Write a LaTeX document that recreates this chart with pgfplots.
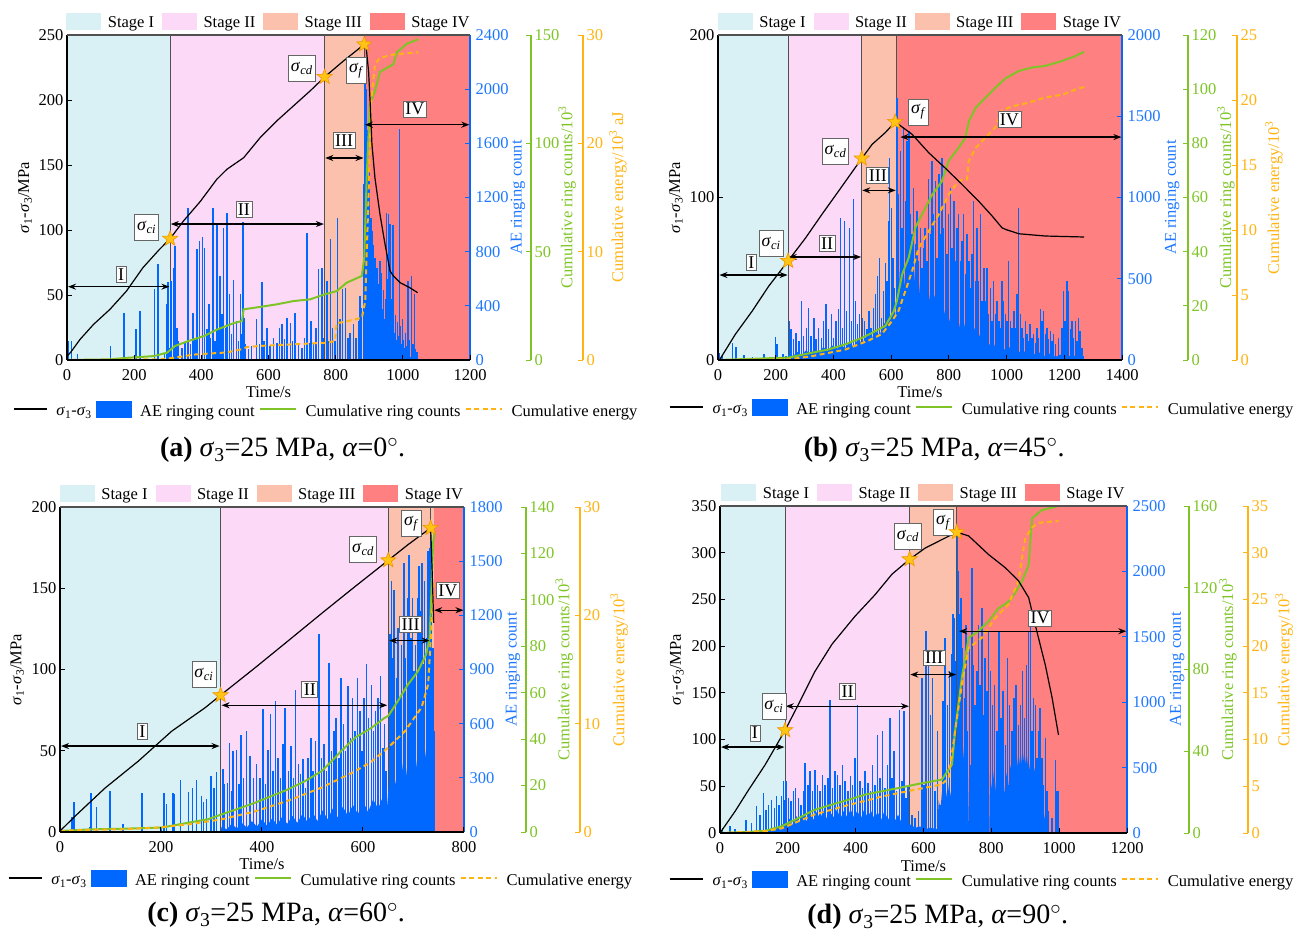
\documentclass[border=0pt]{standalone}
\usepackage{fontspec}
\setmainfont{Liberation Serif}
\usepackage{pgfplots}
\pgfplotsset{compat=1.18}
\usetikzlibrary{arrows.meta}

\definecolor{stI}{RGB}{217,241,244}
\definecolor{stII}{RGB}{253,217,248}
\definecolor{stIII}{RGB}{251,193,172}
\definecolor{stIV}{RGB}{255,128,128}
\definecolor{aeb}{RGB}{0,104,255}
\definecolor{aebt}{RGB}{30,120,255}
\definecolor{cgr}{RGB}{126,196,38}
\definecolor{cor}{RGB}{255,180,20}
\definecolor{starf}{RGB}{255,196,20}
\definecolor{stard}{RGB}{240,150,0}
\definecolor{edge}{RGB}{80,80,80}

\newcommand\fs{\fontsize{16.5}{19}\selectfont}
\newcommand\fcap{\fontsize{28}{32}\selectfont}
\newcommand\sig[1]{\textit{σ}\textsubscript{\textit{#1}}}
\newcommand\sdiff{\textit{σ}\textsubscript{1}-\textit{σ}\textsubscript{3}}

% filled five-pointed star for the characteristic stresses
\pgfdeclareplotmark{fstar}{%
  \pgfpathmoveto{\pgfpointpolar{90}{\pgfplotmarksize}}%
  \pgfpathlineto{\pgfpointpolar{126}{0.42\pgfplotmarksize}}%
  \pgfpathlineto{\pgfpointpolar{162}{\pgfplotmarksize}}%
  \pgfpathlineto{\pgfpointpolar{198}{0.42\pgfplotmarksize}}%
  \pgfpathlineto{\pgfpointpolar{234}{\pgfplotmarksize}}%
  \pgfpathlineto{\pgfpointpolar{270}{0.42\pgfplotmarksize}}%
  \pgfpathlineto{\pgfpointpolar{306}{\pgfplotmarksize}}%
  \pgfpathlineto{\pgfpointpolar{342}{0.42\pgfplotmarksize}}%
  \pgfpathlineto{\pgfpointpolar{18}{\pgfplotmarksize}}%
  \pgfpathlineto{\pgfpointpolar{54}{0.42\pgfplotmarksize}}%
  \pgfpathclose\pgfusepathqfillstroke}

\pgfplotsset{
  base/.style={scale only axis, anchor=south west, xmin=0, ymin=0,
    tick align=inside, major tick length=5pt,
    /pgf/number format/assume math mode=true,
    /pgf/number format/1000 sep={},
    ticklabel style={font=\fs}, label style={font=\fs}},
  aeax/.style={base, axis x line=none, axis y line*=right, axis on top,
    y axis line style={aeb, line width=1.3pt},
    tick style={aeb, line width=1pt},
    yticklabel style={text=aebt, inner sep=1pt, xshift=4.5pt},
    every axis y label/.style={at={(axis description cs:#1,0.5)}, rotate=90, anchor=center, text=aebt, font=\fs},
    legend columns=4,
    legend style={at={(axis description cs:0.5,1)}, anchor=south, yshift=5pt,
      draw=none, fill=none, inner sep=0pt, font=\fs, nodes={inner sep=1pt},
      /tikz/every odd column/.append style={column sep=6pt},
      /tikz/every even column/.append style={column sep=7pt}}},
  grax/.style 2 args={base, axis x line=none, axis y line*=right, axis y line shift=#1,
    y axis line style={cgr, line width=1.3pt}, tick style={cgr, line width=1pt},
    yticklabel style={text=cgr},
    every axis y label/.style={at={(axis description cs:#2,0.5)}, rotate=90, anchor=center, text=cgr, font=\fs}},
  orax/.style 2 args={base, axis x line=none, axis y line*=right, axis y line shift=#1,
    y axis line style={cor, line width=1.3pt}, tick style={cor, line width=1pt},
    yticklabel style={text=cor},
    every axis y label/.style={at={(axis description cs:#2,0.5)}, rotate=90, anchor=center, text=cor, font=\fs}},
  stax/.style n args={3}{base, axis x line*=bottom, axis y line*=left, clip=false,
    x axis line style={black, line width=1.3pt}, y axis line style={black, line width=1.3pt},
    tick style={black, line width=1pt},
    xticklabel style={inner sep=1pt, yshift=-8.5pt},
    every axis x label/.style={at={(axis description cs:0.5,#1)}, anchor=center, font=\fs},
    every axis y label/.style={at={(axis description cs:#2,0.5)}, rotate=90, anchor=center, font=\fs},
    legend columns=4,
    legend style={at={(axis description cs:#3)}, anchor=west, draw=none, fill=none,
      inner sep=0pt, font=\fs, nodes={inner sep=1pt},
      /tikz/every odd column/.append style={column sep=8pt},
      /tikz/every even column/.append style={column sep=3pt}}},
  bars/.style={ycomb, aeb, line width=1.5pt, mark=none, forget plot},
  aearea/.style={fill=aeb, draw=none, forget plot},
  stress/.style={black, line width=1.2pt, mark=none, forget plot},
  cumring/.style={cgr, line width=2pt, mark=none, forget plot},
  cumen/.style={cor, line width=2pt, mark=none, dash pattern=on 5pt off 3.5pt, forget plot},
  stars/.style={only marks, mark=fstar, mark size=8pt, mark options={fill=starf, draw=stard, line width=0.6pt}, forget plot},
}
\tikzset{
  sbox/.style={draw=gray!80!black, fill=white, font=\fontsize{18}{20}\selectfont, inner sep=2.5pt, line width=0.8pt, minimum height=26pt},
  rbox/.style={draw=gray!80!black, fill=white, font=\fontsize{18}{20}\selectfont, inner sep=2pt, line width=0.8pt},
  arr/.style={{Stealth[length=8pt,width=6pt]}-{Stealth[length=8pt,width=6pt]}, line width=1.3pt, black},
}

\newcommand\stagelegend{%
  \addlegendimage{legend image code/.code={\fill[stI] (0pt,-7pt) rectangle (34pt,9pt);}}\addlegendentry{Stage I}
  \addlegendimage{legend image code/.code={\fill[stII] (0pt,-7pt) rectangle (34pt,9pt);}}\addlegendentry{Stage II}
  \addlegendimage{legend image code/.code={\fill[stIII] (0pt,-7pt) rectangle (34pt,9pt);}}\addlegendentry{Stage III}
  \addlegendimage{legend image code/.code={\fill[stIV] (0pt,-7pt) rectangle (34pt,9pt);}}\addlegendentry{Stage IV}}
\newcommand\serieslegend{%
  \addlegendimage{legend image code/.code={\draw[black, line width=1.2pt] (0pt,3pt) -- (33pt,3pt);}}\addlegendentry{\sdiff}
  \addlegendimage{legend image code/.code={\fill[aeb] (0pt,-5pt) rectangle (35pt,11pt);}}\addlegendentry{AE ringing count}
  \addlegendimage{legend image code/.code={\draw[cgr, line width=2pt] (0pt,3pt) -- (36pt,3pt);}}\addlegendentry{Cumulative ring counts}
  \addlegendimage{legend image code/.code={\draw[cor, line width=2pt, dash pattern=on 5pt off 3.5pt] (0pt,3pt) -- (36pt,3pt);}}\addlegendentry{Cumulative energy}}

\begin{document}
\begin{tikzpicture}
\useasboundingbox (0pt,0pt) rectangle (1311pt,-938pt);

% =================== (a) alpha = 0 ===================
\begin{axis}[aeax=1.119, at={(67pt,-360pt)}, width=403pt, height=325pt,
  xmax=1200, ymax=2400, ytick={0,400,...,2400}, ylabel={AE ringing count}]
\stagelegend
\fill[stI] (axis cs:0,0) rectangle (axis cs:307,2400);
\fill[stII] (axis cs:307,0) rectangle (axis cs:767,2400);
\fill[stIII] (axis cs:767,0) rectangle (axis cs:885,2400);
\fill[stIV] (axis cs:885,0) rectangle (axis cs:1200,2400);
\draw[edge, line width=1.2pt] (axis cs:307,0) -- (axis cs:307,2400)
  (axis cs:767,0) -- (axis cs:767,2400) (axis cs:885,0) -- (axis cs:885,2400);
\addplot[aearea] coordinates {(884,0)(885,500)(887,850)(890,600)(893,750)(896,500)(899,650)(902,420)(905,560)(908,380)(911,480)(914,330)(917,420)(920,300)(923,380)(926,260)(929,340)(932,230)(935,300)(938,200)(941,270)(944,180)(947,240)(950,160)(953,220)(956,140)(959,200)(962,120)(965,170)(968,100)(971,140)(975,80)(980,110)(985,60)(990,80)(1000,40)(1010,50)(1020,20)(1035,25)(1045,0)} \closedcycle;
\addplot[bars] coordinates {(5,140)(13,140)(32,47)(129,103)(169,350)(206,226)(218,362)(260,522)(271,706)(290,55)(296,411)(300,576)(304,90)
(307,30)(310,583)(317,682)(322,842)(327,239)(332,140)(342,91)(352,128)(360,1125)(367,116)(375,350)(381,165)(387,817)(395,879)(404,911)(410,830)(417,226)(423,416)(428,165)(434,1125)(440,140)(446,1002)(451,239)(456,620)(461,337)(466,977)(472,239)(476,1088)(484,485)(490,190)(496,591)(504,288)(510,140)(516,485)(520,190)(524,1022)(528,313)(532,116)(540,79)(550,103)(565,300)(573,116)(580,578)(587,140)(595,239)(605,103)(615,165)(625,128)(633,239)(640,263)(647,153)(655,313)(665,276)(671,140)(679,350)(689,116)(699,91)(707,165)(714,940)(722,128)(726,288)(734,116)(742,239)(749,670)(759,682)(764,165)
(774,583)(778,140)(784,891)(791,239)(798,140)(806,1051)(813,300)(821,522)(830,534)(837,165)(843,202)(853,263)(861,165)(868,288)(873,473)(877,386)(883,239)
(885,1300)(887,2130)(889,1800)(891,2000)(893,1500)(895,1700)(897,1350)(899,1100)(901,1400)(903,900)(905,1050)(907,800)(909,950)(911,700)(913,850)(915,600)(917,750)(920,500)(923,680)(926,450)(929,560)(932,731)(935,420)(937,645)(940,380)(943,520)(946,300)(949,450)(951,1085)(955,600)(957,1075)(960,400)(962,1002)(965,300)(968,450)(970,1000)(972,399)(975,200)(978,330)(981,150)(984,280)(987,180)(990,1703)(993,250)(996,120)(999,300)(1002,150)(1005,90)(1008,200)(1012,100)(1016,583)(1020,150)(1026,620)(1030,120)(1034,485)(1038,80)(1042,60)};
\end{axis}
\begin{axis}[grax={61pt}{1.241}, at={(67pt,-360pt)}, width=403pt, height=325pt,
  xmax=1200, ymax=150, ytick={0,50,...,150}, ylabel={Cumulative ring counts/10\textsuperscript{3}}]
\addplot[cumring] coordinates {(0,0)(129,0.3)(178,1)(258,1.8)(298,3.4)(322,6.5)(362,8.8)(407,11)(446,14)(496,17)(521,18)(526,23.4)(575,24.5)(625,25.7)(674,27.2)(724,28)(767,30.3)(803,31.8)(833,35.7)(878,38.8)(885,47)(893,87)(902,118)(917,124)(932,133)(972,136.5)(982,142)(1012,146)(1046,148)};
\end{axis}
\begin{axis}[orax={113pt}{1.367}, at={(67pt,-360pt)}, width=403pt, height=325pt,
  xmax=1200, ymax=30, ytick={0,10,...,30}, ylabel={Cumulative energy/10\textsuperscript{3} aJ}]
\addplot[cumen] coordinates {(0,0)(278,0.06)(317,0.2)(377,0.5)(476,0.7)(521,1.0)(536,1.2)(575,1.3)(674,1.45)(774,1.6)(798,1.75)(803,3.4)(823,3.5)(878,3.9)(888,5.4)(898,15.3)(905,23.6)(917,27.3)(932,27.9)(972,28.2)(1046,28.4)};
\end{axis}
\begin{axis}[stax={-0.098}{-0.104}{-0.134,-0.154}, at={(67pt,-360pt)}, width=403pt, height=325pt,
  xmax=1200, ymax=250, xtick={0,200,...,1200}, ytick={0,50,...,250},
  xlabel={Time/s}, ylabel={\sdiff/MPa}]
\serieslegend
\draw[edge, line width=1.2pt] (rel axis cs:0,1) -- (rel axis cs:1,1);
\addplot[stress] coordinates {(0,3)(10,5.6)(39,15.9)(79,27.4)(128,39)(177,53)(226,71)(275,85)(307,93.3)(347,107)(397,122)(446,139)(476,146.7)(526,155.6)(575,171)(625,184)(674,195.4)(724,207)(767,217.7)(823,230)(885,242.8)(891,240)(898,222)(903,196.7)(908,166)(917,140)(932,112)(947,89)(962,68.5)(972,64.6)(992,59.5)(1021,55.6)(1044,51.8)};
\draw[arr] (axis cs:3,56.4) -- (axis cs:305,56.4);
\draw[arr] (axis cs:309,104.6) -- (axis cs:765,104.6);
\draw[arr] (axis cs:769,155.4) -- (axis cs:883,155.4);
\draw[arr] (axis cs:887,181) -- (axis cs:1198,181);
\node[rbox] at (axis cs:161,66) {I};
\node[rbox] at (axis cs:527,115.6) {II};
\node[rbox] at (axis cs:825,168.7) {III};
\node[rbox] at (axis cs:1036,193) {IV};
\node[sbox] at (axis cs:237,102) {\sig{ci}};
\node[sbox] at (axis cs:699,224) {\sig{cd}};
\node[sbox] at (axis cs:862,222.5) {\sig{f}};
\addplot[stars] coordinates {(307,93.3)(767,217.7)(885,242.8)};
\node[font=\fcap] at (axis description cs:0.535,-0.277) {\textbf{(a)} \textit{σ}\textsubscript{3}=25 MPa, \textit{α}=0$^{\circ}$.};
\end{axis}

% =================== (b) alpha = 45 ===================
\begin{axis}[aeax=1.124, at={(718pt,-360pt)}, width=404pt, height=325pt,
  xmax=1400, ymax=2000, ytick={0,500,...,2000}, ylabel={AE ringing count}]
\stagelegend
\fill[stI] (axis cs:0,0) rectangle (axis cs:243,2000);
\fill[stII] (axis cs:243,0) rectangle (axis cs:498,2000);
\fill[stIII] (axis cs:498,0) rectangle (axis cs:618,2000);
\fill[stIV] (axis cs:618,0) rectangle (axis cs:1400,2000);
\draw[edge, line width=1.2pt] (axis cs:243,0) -- (axis cs:243,2000)
  (axis cs:498,0) -- (axis cs:498,2000) (axis cs:618,0) -- (axis cs:618,2000);
\addplot[aearea] coordinates {(240,0)(245,40)(260,25)(275,50)(290,30)(305,60)(320,35)(335,70)(350,45)(365,80)(380,55)(395,90)(410,60)(425,100)(440,70)(455,110)(470,80)(485,130)(500,100)(515,150)(530,120)(545,180)(560,150)(575,230)(590,200)(605,300)(615,260)(620,450)(625,350)(630,550)(635,420)(640,600)(645,450)(650,560)(655,400)(660,580)(665,420)(670,520)(675,380)(680,540)(685,400)(690,500)(695,360)(700,480)(705,340)(710,460)(715,330)(720,440)(725,300)(730,420)(740,290)(750,400)(760,270)(770,360)(780,250)(790,340)(800,230)(810,300)(820,200)(830,280)(840,180)(850,250)(860,160)(870,220)(880,140)(890,200)(900,120)(910,170)(920,100)(930,150)(940,90)(950,130)(960,80)(975,110)(990,60)(1005,90)(1020,50)(1035,70)(1050,40)(1070,60)(1090,30)(1110,50)(1130,25)(1150,40)(1170,20)(1190,35)(1210,20)(1230,30)(1250,15)(1265,20)(1268,0)} \closedcycle;
\addplot[bars] coordinates {(5,45)(14,25)(50,107)(62,80)(90,30)(120,20)(160,40)(199,141)(205,100)(225,40)(235,25)
(247,240)(253,189)(261,127)(270,168)(280,117)(289,363)(297,148)(306,199)(314,322)(322,148)(332,260)(340,127)(349,199)(358,137)(366,240)(374,342)(383,189)(393,281)(401,137)(409,240)(418,312)(424,876)(432,199)(438,855)(446,302)(455,814)(462,240)(470,989)(477,363)(484,219)(491,281)
(501,260)(508,240)(516,189)(524,302)(531,199)(539,322)(545,404)(553,517)(560,630)(566,260)(574,425)(580,599)(586,486)(592,855)(595,1245)(601,937)(606,630)(612,445)
(620,1614)(626,1020)(632,1286)(638,814)(643,1430)(650,978)(655,1348)(661,1409)(667,896)(672,773)(678,1060)(684,712)(690,917)(695,609)(701,814)(707,568)(713,691)(718,814)(724,609)(730,1112)(736,773)(741,1225)(747,896)(753,1102)(759,630)(765,1143)(770,773)(776,1245)(782,814)(788,978)(794,650)(799,896)(805,1060)(811,691)(817,978)(822,609)(828,814)(834,896)(840,609)(846,732)(851,896)(857,527)(863,773)(869,609)(874,445)(880,650)(886,978)(892,486)(897,814)(903,486)(909,896)(915,363)(921,568)(926,363)(932,568)(938,281)(944,445)(950,240)(955,486)(961,281)(967,363)(973,240)(978,199)(984,486)(990,363)(996,281)(1002,240)(1007,609)(1013,240)(1019,199)(1025,302)(1030,199)(1036,404)(1042,937)(1048,281)(1053,199)(1059,137)(1065,240)(1071,158)(1076,117)(1082,219)(1088,137)(1094,158)(1100,107)(1105,199)(1111,137)(1117,312)(1123,240)(1128,302)(1134,158)(1140,199)(1146,127)(1152,178)(1157,117)(1163,158)(1169,96)(1180,137)(1192,199)(1198,425)(1203,240)(1209,486)(1215,425)(1221,189)(1226,240)(1232,137)(1238,240)(1244,117)(1249,260)(1255,178)(1261,76)(1267,25)};
\end{axis}
\begin{axis}[grax={66pt}{1.257}, at={(718pt,-360pt)}, width=404pt, height=325pt,
  xmax=1400, ymax=120, ytick={0,20,...,120}, ylabel={Cumulative ring counts/10\textsuperscript{3}}]
\addplot[cumring] coordinates {(0,0)(245,0.9)(326,2.7)(383,3.9)(441,5.8)(499,8.2)(534,10)(545,10.7)(580,12.6)(609,18)(620,21.8)(638,31.6)(661,37.8)(684,48.9)(707,53.8)(742,61)(776,66)(799,73.5)(834,78.4)(857,82)(869,88)(892,93)(915,95.6)(938,98)(961,100.5)(996,104)(1042,106.7)(1088,108)(1134,108.6)(1192,110.4)(1238,112.2)(1269,113.8)};
\end{axis}
\begin{axis}[orax={115pt}{1.376}, at={(718pt,-360pt)}, width=404pt, height=325pt,
  xmax=1400, ymax=25, ytick={0,5,...,25}, ylabel={Cumulative energy/10\textsuperscript{3}}]
\addplot[cumen] coordinates {(0,0)(245,0.05)(326,0.3)(441,0.8)(522,1.5)(568,2.0)(603,3.0)(626,3.8)(649,5.3)(672,6.8)(695,8.6)(730,9.9)(765,11.2)(799,12.7)(834,13.8)(863,13.9)(869,15.3)(892,16.3)(927,17.1)(961,17.9)(984,19.2)(1019,19.5)(1077,19.8)(1134,20.2)(1192,20.4)(1238,20.8)(1269,21)};
\end{axis}
\begin{axis}[stax={-0.098}{-0.104}{-0.121,-0.148}, at={(718pt,-360pt)}, width=404pt, height=325pt,
  xmax=1400, ymax=200, xtick={0,200,...,1400}, ytick={0,100,200},
  xlabel={Time/s}, ylabel={\sdiff/MPa}]
\serieslegend
\draw[edge, line width=1.2pt] (rel axis cs:0,1) -- (rel axis cs:1,1);
\addplot[stress] coordinates {(5,0)(60,15.8)(118,30)(176,45.5)(243,61)(303,75)(360,89.6)(418,104)(498,124)(534,132.7)(580,140)(614,146.5)(672,139)(730,127.6)(788,118)(846,108)(903,97.8)(950,88.6)(984,81.4)(996,80.4)(1042,77.7)(1134,76.3)(1269,75.7)};
\draw[arr] (axis cs:5,52.3) -- (axis cs:241,52.3);
\draw[arr] (axis cs:245,63.4) -- (axis cs:496,63.4);
\draw[arr] (axis cs:500,104.4) -- (axis cs:616,104.4);
\draw[arr] (axis cs:632,137.2) -- (axis cs:1398,137.2);
\node[rbox] at (axis cs:115.5,60) {I};
\node[rbox] at (axis cs:378,71.6) {II};
\node[rbox] at (axis cs:554,113.6) {III};
\node[rbox] at (axis cs:1010,148) {IV};
\node[sbox] at (axis cs:184,71.6) {\sig{ci}};
\node[sbox] at (axis cs:407,128.6) {\sig{cd}};
\node[sbox] at (axis cs:695,152.6) {\sig{f}};
\addplot[stars] coordinates {(243,61)(498,124)(614,146.5)};
\node[font=\fcap] at (axis description cs:0.535,-0.277) {\textbf{(b)} \textit{σ}\textsubscript{3}=25 MPa, \textit{α}=45$^{\circ}$.};
\end{axis}

% =================== (c) alpha = 60 ===================
\begin{axis}[aeax=1.121, at={(60pt,-832pt)}, width=404pt, height=325pt,
  xmax=800, ymax=1800, ytick={0,300,...,1800}, ylabel={AE ringing count}]
\stagelegend
\fill[stI] (axis cs:0,0) rectangle (axis cs:318,1800);
\fill[stII] (axis cs:318,0) rectangle (axis cs:650,1800);
\fill[stIII] (axis cs:650,0) rectangle (axis cs:741,1800);
\fill[stIV] (axis cs:741,0) rectangle (axis cs:800,1800);
\draw[edge, line width=1.2pt] (axis cs:318,0) -- (axis cs:318,1800)
  (axis cs:650,0) -- (axis cs:650,1800) (axis cs:734,0) -- (axis cs:734,1800);
\addplot[aearea] coordinates {(318,0)(320,30)(330,15)(340,45)(350,20)(360,50)(370,25)(380,60)(390,30)(400,70)(410,35)(420,75)(430,40)(440,85)(450,45)(460,90)(470,50)(480,100)(490,55)(500,110)(510,60)(520,120)(530,70)(540,130)(550,80)(560,140)(570,90)(580,150)(590,100)(600,170)(610,110)(620,180)(630,130)(640,200)(648,150)(652,300)(656,220)(660,350)(665,260)(670,380)(675,280)(680,400)(685,300)(690,430)(695,320)(700,450)(705,350)(710,480)(715,380)(720,520)(725,400)(730,560)(735,450)(740,380)(742,0)} \closedcycle;
\addplot[bars] coordinates {(24,83)(28,168)(58,30)(61,218)(72,138)(99,227)(125,42)(162,218)(201,24)(206,218)(211,153)(224,218)(227,208)(239,286)(254,223)(262,245)(270,286)(280,199)(284,168)(290,181)(299,310)(305,245)(310,334)
(323,347)(326,264)(332,273)(336,494)(340,227)(343,448)(350,457)(354,264)(358,540)(363,301)(369,559)(376,420)(383,301)(389,374)(396,301)(402,684)(407,264)(412,457)(417,651)(422,337)(427,725)(432,411)(437,301)(442,485)(446,688)(452,337)(457,476)(462,301)(466,789)(472,374)(476,319)(481,402)(486,245)(491,411)(497,522)(501,337)(506,503)(513,1094)(518,411)(523,485)(528,337)(533,937)(538,448)(543,559)(547,633)(552,411)(556,854)(561,596)(565,448)(570,808)(575,522)(579,743)(584,559)(589,854)(594,670)(598,448)(602,743)(607,928)(611,633)(617,817)(621,559)(625,670)(630,743)(635,863)(640,467)(643,596)(646,337)
(653,1094)(656,1389)(659,965)(661,1343)(666,854)(669,1131)(673,743)(676,1038)(681,1490)(684,965)(688,1297)(691,1536)(695,1075)(698,1297)(701,891)(704,1038)(708,1297)(711,1472)(714,1223)(717,1490)(720,928)(722,1389)(726,1075)(729,1555)(732,1573)(735,1610)(739,1020)(742,559)};
\end{axis}
\begin{axis}[grax={62pt}{1.248}, at={(60pt,-832pt)}, width=404pt, height=325pt,
  xmax=800, ymax=140, ytick={0,20,...,140}, ylabel={Cumulative ring counts/10\textsuperscript{3}}]
\addplot[cumring] coordinates {(0,0.4)(56,1.1)(122,1.4)(201,1.9)(254,4)(293,5.5)(320,7.6)(359,10.5)(386,12.6)(419,15.5)(452,18.4)(485,21.9)(518,26.2)(538,30.5)(557,34.9)(584,40.6)(617,44.9)(643,49.2)(650,50)(669,56.4)(689,63.5)(709,69.3)(725,76.5)(732,83.6)(735,100.8)(739,125)(742,129.5)};
\end{axis}
\begin{axis}[orax={116pt}{1.384}, at={(60pt,-832pt)}, width=404pt, height=325pt,
  xmax=800, ymax=30, ytick={0,10,...,30}, ylabel={Cumulative energy/10\textsuperscript{3}}]
\addplot[cumen] coordinates {(0,0.1)(56,0.2)(122,0.25)(188,0.4)(254,0.7)(320,1.17)(386,1.9)(452,2.9)(518,4.1)(584,5.6)(617,6.5)(650,7.8)(683,9.3)(716,11.5)(729,13.6)(735,18.5)(740,23.1)};
\end{axis}
\begin{axis}[stax={-0.1}{-0.106}{-0.129,-0.145}, at={(60pt,-832pt)}, width=404pt, height=325pt,
  xmax=800, ymax=200, xtick={0,200,...,800}, ytick={0,50,...,200},
  xlabel={Time/s}, ylabel={\sdiff/MPa}]
\serieslegend
\draw[edge, line width=1.2pt] (rel axis cs:0,1) -- (rel axis cs:1,1);
\addplot[stress] coordinates {(0,0.6)(30,9.8)(89,27)(155,43.6)(221,62)(287,76.4)(318,84.2)(386,101)(452,117.7)(518,134.5)(584,151)(650,167.2)(689,176.8)(734,187.1)(737,160)(740,128.7)};
\draw[arr] (axis cs:2,52.9) -- (axis cs:316,52.9);
\draw[arr] (axis cs:320,78) -- (axis cs:648,78);
\draw[arr] (axis cs:652,117.8) -- (axis cs:732,117.8);
\draw[arr] (axis cs:741,136.5) -- (axis cs:799,136.5);
\node[rbox] at (axis cs:163,62) {I};
\node[rbox] at (axis cs:494.6,87.7) {II};
\node[rbox] at (axis cs:694.5,127.7) {III};
\node[rbox] at (axis cs:768,148.6) {IV};
\node[sbox] at (axis cs:285,97) {\sig{ci}};
\node[sbox] at (axis cs:600,173.8) {\sig{cd}};
\node[sbox] at (axis cs:696,190) {\sig{f}};
\addplot[stars] coordinates {(318,84.2)(650,167.2)(734,187.1)};
\node[font=\fcap] at (axis description cs:0.535,-0.256) {\textbf{(c)} \textit{σ}\textsubscript{3}=25 MPa, \textit{α}=60$^{\circ}$.};
\end{axis}

% =================== (d) alpha = 90 ===================
\begin{axis}[aeax=1.123, at={(720pt,-833pt)}, width=407pt, height=327pt,
  xmax=1200, ymax=2500, ytick={0,500,...,2500}, ylabel={AE ringing count}]
\stagelegend
\fill[stI] (axis cs:0,0) rectangle (axis cs:192,2500);
\fill[stII] (axis cs:192,0) rectangle (axis cs:559,2500);
\fill[stIII] (axis cs:559,0) rectangle (axis cs:698,2500);
\fill[stIV] (axis cs:698,0) rectangle (axis cs:1200,2500);
\draw[edge, line width=1.2pt] (axis cs:192,0) -- (axis cs:192,2500)
  (axis cs:559,0) -- (axis cs:559,2500) (axis cs:698,0) -- (axis cs:698,2500);
\addplot[aearea] coordinates {(140,0)(145,30)(155,15)(165,50)(175,25)(185,70)(195,40)(205,110)(215,60)(225,130)(235,80)(245,140)(255,90)(265,150)(275,100)(285,160)(295,110)(305,170)(315,110)(325,160)(335,120)(345,180)(355,110)(365,170)(375,120)(385,180)(395,120)(405,170)(415,110)(425,180)(435,120)(445,170)(455,110)(465,160)(475,100)(485,170)(495,100)(505,150)(515,90)(525,140)(535,80)(545,130)(555,70)(565,60)(575,40)(590,50)(605,30)(620,40)(640,30)(645,250)(650,180)(655,330)(660,200)(665,350)(670,250)(675,380)(680,280)(685,420)(690,330)(695,600)(700,850)(705,600)(710,750)(715,500)(720,680)(725,450)(730,600)(734,0)(736,0)(738,500)(745,550)(750,380)(755,520)(758,0)(760,0)(762,480)(768,400)(774,520)(780,350)(786,480)(792,0)(794,0)(796,450)(802,330)(808,480)(814,300)(820,450)(826,280)(832,420)(838,300)(844,460)(850,350)(856,520)(862,400)(868,580)(874,450)(880,620)(886,480)(892,640)(898,500)(904,620)(910,460)(916,560)(922,400)(928,500)(934,350)(940,400)(946,250)(952,200)(958,100)(962,50)(965,0)} \closedcycle;
\addplot[bars] coordinates {(7,38)(30,51)(44,30)(76,102)(93,77)(108,204)(118,140)(128,306)(135,179)(143,217)(152,255)(160,191)(167,281)(174,217)(182,281)(187,395)(190,255)
(194,395)(202,268)(210,242)(216,319)(223,344)(231,268)(239,217)(246,319)(251,536)(259,370)(266,472)(272,319)(280,485)(288,370)(295,319)(302,446)(310,370)(318,421)(325,1020)(331,344)(339,472)(347,446)(354,370)(361,523)(369,395)(377,319)(384,434)(391,370)(398,574)(406,982)(413,395)(420,344)(428,472)(436,383)(443,319)(450,523)(457,370)(465,753)(472,421)(479,778)(487,344)(494,523)(501,880)(507,421)(513,625)(521,319)(529,944)(536,395)(543,931)(549,268)(554,370)
(566,140)(575,115)(585,166)(595,1186)(602,370)(608,1543)(615,1365)(620,906)(627,1186)(634,319)(641,778)(649,217)(657,1008)(664,1492)(671,982)(677,1237)(682,1365)(687,1671)(692,1645)(695,1314)
(700,2296)(703,2003)(707,1671)(711,1798)(715,1416)(721,1033)(725,1594)(730,778)(735,1416)(739,523)(743,2028)(748,1288)(752,982)(757,1237)(762,1594)(767,1135)(772,1722)(777,906)(782,1339)(787,1084)(792,1543)(798,1237)(804,982)(810,1135)(816,778)(822,1543)(828,880)(834,1084)(841,676)(848,1339)(854,982)(861,778)(867,1033)(873,1135)(880,829)(886,982)(892,1237)(898,880)(904,1288)(910,1543)(915,1594)(920,778)(925,1033)(930,982)(935,574)(939,778)(944,957)(949,574)(954,370)(959,727)(964,319)(969,166)(979,115)(989,561)(994,319)(998,319)};
\end{axis}
\begin{axis}[grax={62pt}{1.248}, at={(720pt,-833pt)}, width=407pt, height=327pt,
  xmax=1200, ymax=160, ytick={0,40,...,160}, ylabel={Cumulative ring counts/10\textsuperscript{3}}]
\addplot[cumring] coordinates {(0,0)(84,0.5)(133,1.1)(182,3.3)(231,7.3)(280,11.4)(330,13.9)(379,16.3)(428,18.8)(477,20.4)(526,22)(575,23.7)(625,25.3)(654,26.1)(684,33.5)(693,49.8)(713,76)(733,95.5)(762,98.8)(792,103.7)(821,110)(841,112)(861,115)(890,123)(910,131)(920,154)(949,158)(998,160)};
\end{axis}
\begin{axis}[orax={121pt}{1.386}, at={(720pt,-833pt)}, width=407pt, height=327pt,
  xmax=1200, ymax=35, ytick={0,5,...,35}, ylabel={Cumulative energy/10\textsuperscript{3}}]
\addplot[cumen] coordinates {(0,0)(133,0.2)(182,0.5)(280,2.0)(379,3.0)(477,3.9)(556,4.5)(654,5.2)(674,5.9)(693,10.9)(713,15.9)(733,19.8)(772,20.9)(811,23)(851,24.5)(880,27)(900,31.6)(920,32.7)(939,33.2)(998,33.4)};
\end{axis}
\begin{axis}[stax={-0.1}{-0.106}{-0.125,-0.144}, at={(720pt,-833pt)}, width=407pt, height=327pt,
  xmax=1200, ymax=350, xtick={0,200,...,1200}, ytick={0,50,...,350},
  xlabel={Time/s}, ylabel={\sdiff/MPa}]
\serieslegend
\draw[edge, line width=1.2pt] (rel axis cs:0,1) -- (rel axis cs:1,1);
\addplot[stress] coordinates {(0,0)(44,23)(84,46)(133,73)(192,110)(231,137.5)(280,173)(330,202)(398,232)(457,255)(507,277)(559,293)(605,305)(654,314)(698,322)(733,318)(792,298)(841,284)(880,270)(910,252)(934,216)(959,180)(979,145)(998,105)};
\draw[arr] (axis cs:3,92) -- (axis cs:190,92);
\draw[arr] (axis cs:194,135.7) -- (axis cs:557,135.7);
\draw[arr] (axis cs:561,169.6) -- (axis cs:696,169.6);
\draw[arr] (axis cs:705,216) -- (axis cs:1198,216);
\node[rbox] at (axis cs:103,107) {I};
\node[rbox] at (axis cs:376,151.8) {II};
\node[rbox] at (axis cs:631,187.5) {III};
\node[rbox] at (axis cs:944,230) {IV};
\node[sbox] at (axis cs:159,135.7) {\sig{ci}};
\node[sbox] at (axis cs:554,317.9) {\sig{cd}};
\node[sbox] at (axis cs:659,332) {\sig{f}};
\addplot[stars] coordinates {(192,110)(559,293)(698,322)};
\node[font=\fcap] at (axis description cs:0.535,-0.257) {\textbf{(d)} \textit{σ}\textsubscript{3}=25 MPa, \textit{α}=90$^{\circ}$.};
\end{axis}
\end{tikzpicture}
\end{document}
